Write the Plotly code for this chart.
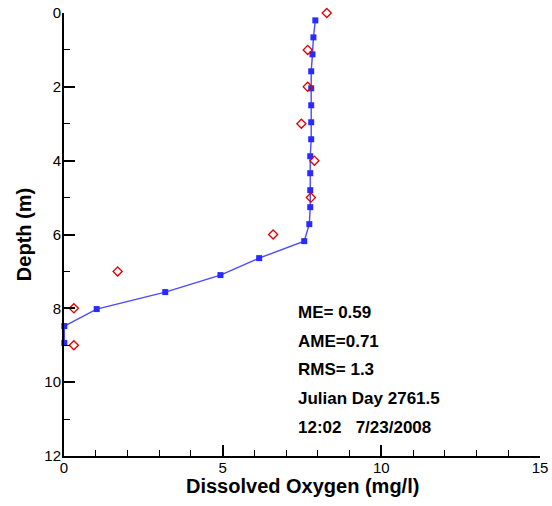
import plotly.graph_objects as go

# Model profile (blue squares)
model_do = [7.92, 7.86, 7.83, 7.79, 7.79, 7.79, 7.79, 7.79, 7.76, 7.76,
            7.76, 7.76, 7.73, 7.57, 6.15, 4.93, 3.19, 1.03, 0.01, 0.01]
model_depth = [0.20, 0.66, 1.12, 1.58, 2.04, 2.50, 2.96, 3.42, 3.88, 4.34,
               4.80, 5.26, 5.72, 6.18, 6.64, 7.10, 7.56, 8.02, 8.48, 8.94]

# Observed data (red open diamonds)
obs_do = [8.28, 7.68, 7.68, 7.48, 7.89, 7.78, 6.59, 1.69, 0.31, 0.31]
obs_depth = [0, 1, 2, 3, 4, 5, 6, 7, 8, 9]

stats_lines = ["ME= 0.59", "AME=0.71", "RMS= 1.3", "Julian Day 2761.5", "12:02   7/23/2008"]
stats_y = [8.12, 8.90, 9.67, 10.45, 11.22]

fig = go.Figure()
fig.add_trace(go.Scatter(
    x=model_do, y=model_depth, mode="lines+markers",
    line=dict(color="#4a4aff", width=1.4),
    marker=dict(symbol="square", size=6, color="#2a2aff"),
    cliponaxis=False, showlegend=False))
fig.add_trace(go.Scatter(
    x=obs_do, y=obs_depth, mode="markers",
    marker=dict(symbol="diamond-open", size=7, color="#e00000", line=dict(width=1.3)),
    cliponaxis=False, showlegend=False))

for t, yv in zip(stats_lines, stats_y):
    fig.add_annotation(x=7.30, y=yv, xref="x", yref="y", text=t, showarrow=False,
                       xanchor="left", yanchor="middle",
                       font=dict(family="Liberation Sans, Arial", size=17, color="black", weight="bold"))

# x-axis title placed just under the tick labels
fig.add_annotation(x=0.5, y=-0.068, xref="paper", yref="paper",
                   text="Dissolved Oxygen (mg/l)", showarrow=False,
                   xanchor="center", yanchor="middle",
                   font=dict(family="Liberation Sans, Arial", size=20, color="black", weight="bold"))

fig.update_layout(
    width=552, height=506,
    margin=dict(l=64, r=12, t=13, b=50, autoexpand=False),
    plot_bgcolor="white", paper_bgcolor="white",
    font=dict(family="Liberation Sans, Arial", color="black"),
)
fig.update_xaxes(
    range=[0, 15], dtick=5, tick0=0, showgrid=False, zeroline=False, automargin=False,
    showline=True, linecolor="black", linewidth=2,
    ticks="inside", ticklen=11, tickwidth=2, tickcolor="black",
    tickfont=dict(size=15), ticklabeloverflow="allow", ticklabelstandoff=-3,
    minor=dict(dtick=1, ticks="inside", ticklen=6, tickwidth=1, tickcolor="black"),
)
fig.update_yaxes(
    range=[12, 0], dtick=2, tick0=0, showgrid=False, zeroline=False, automargin=False,
    showline=True, linecolor="black", linewidth=2,
    ticks="inside", ticklen=11, tickwidth=2, tickcolor="black",
    tickfont=dict(size=15), ticklabeloverflow="allow", ticklabelstandoff=-2,
    minor=dict(dtick=1, ticks="inside", ticklen=6, tickwidth=1, tickcolor="black"),
    title=dict(text="Depth (m)", font=dict(size=20, weight="bold"), standoff=7),
)

# remove the browser's default page margin so the figure fills the window exactly
fig.write_html("out.html", config={"displayModeBar": False},
               post_script="document.body.style.margin='0px';")
